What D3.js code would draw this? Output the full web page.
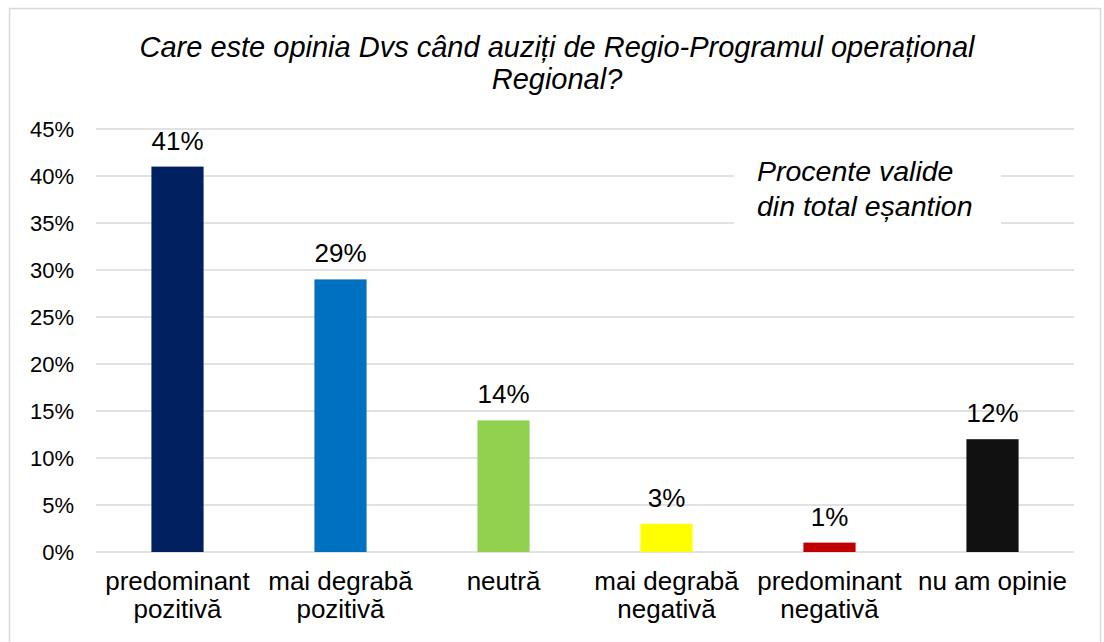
<!DOCTYPE html>
<html>
<head>
<meta charset="utf-8">
<script src="https://cdn.jsdelivr.net/npm/d3@7"></script>
<style>
  body { margin: 0; background: #fff; }
  svg text { font-family: "Liberation Sans", Arial, sans-serif; fill: #000; }
</style>
</head>
<body>
<div id="chart"></div>
<script>
var categories = ['predominant pozitivă', 'mai degrabă pozitivă', 'neutră', 'mai degrabă negativă', 'predominant negativă', 'nu am opinie'];
var catLines = [['predominant', 'pozitivă'], ['mai degrabă', 'pozitivă'], ['neutră'], ['mai degrabă', 'negativă'], ['predominant', 'negativă'], ['nu am opinie']];
var values = [41, 29, 14, 3, 1, 12];
var colors = ['#002060', '#0070C0', '#92D050', '#FFFF00', '#C00000', '#111111'];
var yTicks = [0, 5, 10, 15, 20, 25, 30, 35, 40, 45];
var titleLines = ['Care este opinia Dvs când auziți de Regio-Programul operațional', 'Regional?'];
var noteLines = ['Procente valide', 'din total eșantion'];

var W = 1104, H = 642;
var svg = d3.select('#chart').append('svg').attr('width', W).attr('height', H);

// chart frame
svg.append('rect').attr('x', 9.5).attr('y', 8.5).attr('width', 1091).attr('height', 660)
  .attr('fill', '#fff').attr('stroke', '#d9d9d9').attr('stroke-width', 1.5);

var x = d3.scaleBand().domain(categories).range([96, 1074]).paddingInner(0.68).paddingOuter(0.34);
var y = d3.scaleLinear().domain([0, 45]).range([552, 129]);

// grid
svg.append('g').selectAll('line').data(yTicks).join('line')
  .attr('x1', 96).attr('x2', 1074)
  .attr('y1', function(d) { return y(d); }).attr('y2', function(d) { return y(d); })
  .attr('stroke', '#d9d9d9').attr('stroke-width', 1.5);

// y labels
svg.append('g').selectAll('text').data(yTicks).join('text')
  .attr('x', 74).attr('y', function(d) { return y(d); }).attr('dy', '0.36em')
  .attr('text-anchor', 'end').style('font-size', '22px')
  .text(function(d) { return d + '%'; });

// bars
svg.append('g').selectAll('rect').data(values).join('rect')
  .attr('x', function(d, i) { return x(categories[i]); })
  .attr('width', x.bandwidth())
  .attr('y', function(d) { return y(d); })
  .attr('height', function(d) { return y(0) - y(d); })
  .attr('fill', function(d, i) { return colors[i]; });

// value labels
svg.append('g').selectAll('text').data(values).join('text')
  .attr('x', function(d, i) { return x(categories[i]) + x.bandwidth() / 2; })
  .attr('y', function(d) { return y(d) - 17; })
  .attr('text-anchor', 'middle').style('font-size', '26px')
  .text(function(d) { return d + '%'; });

// category labels
var cl = svg.append('g').selectAll('text').data(catLines).join('text')
  .attr('text-anchor', 'middle').style('font-size', '26px')
  .attr('transform', function(d, i) { return 'translate(' + (x(categories[i]) + x.bandwidth() / 2) + ',590)'; });
cl.selectAll('tspan').data(function(d) { return d; }).join('tspan')
  .attr('x', 0).attr('y', function(d, j) { return j * 28; })
  .text(function(d) { return d; });

// title
svg.append('text').attr('text-anchor', 'middle').style('font-size', '29px').style('font-style', 'italic')
  .selectAll('tspan').data(titleLines).join('tspan')
  .attr('x', 557).attr('y', function(d, j) { return 57 + j * 32; })
  .text(function(d) { return d; });

// note box
svg.append('rect').attr('x', 734).attr('y', 150).attr('width', 267).attr('height', 82).attr('fill', '#fff');
svg.append('text').style('font-size', '28.5px').style('font-style', 'italic')
  .selectAll('tspan').data(noteLines).join('tspan')
  .attr('x', 757).attr('y', function(d, j) { return 181 + j * 35; })
  .text(function(d) { return d; });
</script>
</body>
</html>
